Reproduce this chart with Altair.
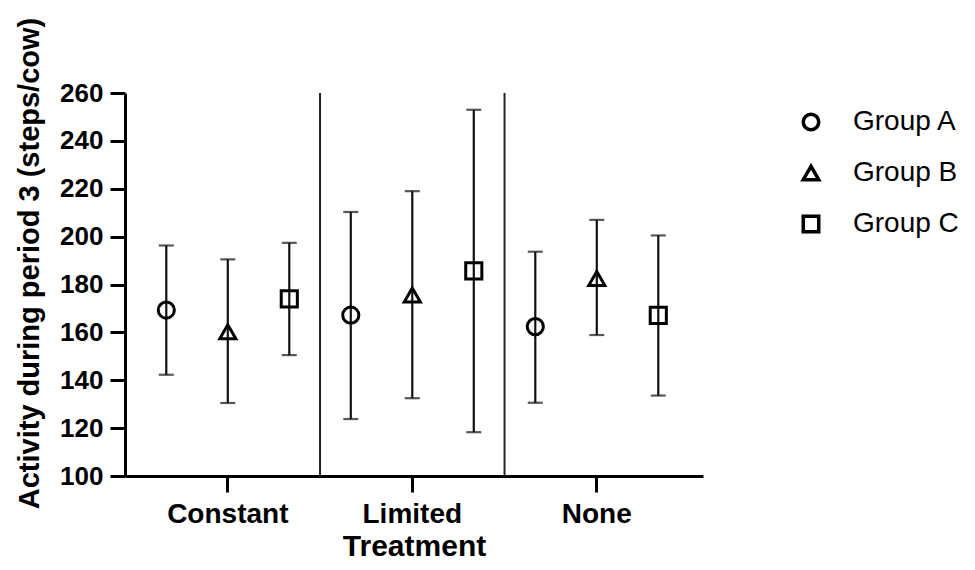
import altair as alt
import pandas as pd

treatments = ["Constant", "Limited", "None"]
groups = ["Group A", "Group B", "Group C"]
shapes = ["circle", "triangle-up", "square"]

# values per treatment (Constant, Limited, None)
mean_a = [169.3, 167.2, 162.4]
mean_b = [160.3, 175.6, 182.5]
mean_c = [174.0, 185.7, 167.1]
upper_a = [196.3, 210.3, 193.7]
upper_b = [190.5, 219.0, 207.0]
upper_c = [197.4, 253.0, 200.5]
lower_a = [142.3, 123.8, 130.6]
lower_b = [130.5, 132.5, 158.9]
lower_c = [150.5, 118.3, 133.6]

y_ticks = [100, 120, 140, 160, 180, 200, 220, 240, 260]
separators = ["Limited", "None"]

rows = []
for g, m, u, l in zip(groups, [mean_a, mean_b, mean_c], [upper_a, upper_b, upper_c], [lower_a, lower_b, lower_c]):
    for i, t in enumerate(treatments):
        rows.append({"Treatment": t, "Group": g, "Mean": m[i], "Upper": u[i], "Lower": l[i]})
df = pd.DataFrame(rows)
sep_df = pd.DataFrame({"Treatment": separators})

FONT = "Liberation Sans"
W, H = 578, 383
YTITLE = "Activity during period 3 (steps/cow)"

x_scale = alt.Scale(domain=treatments, paddingInner=0, paddingOuter=0.0664, align=0.43)
x_axis = alt.Axis(
    labelAngle=0, labelFont=FONT, labelFontSize=28, labelFontWeight="bold", labelColor="black",
    labelPadding=8, tickSize=16, tickWidth=3, tickColor="black", domainWidth=3, domainColor="black",
    titleFont=FONT, titleFontSize=30, titleFontWeight="bold", titleColor="black",
    titleY=79, titleBaseline="alphabetic", grid=False,
)
y_scale = alt.Scale(domain=[100, 260], nice=False, zero=False)
y_axis = alt.Axis(
    values=y_ticks, labelFont=FONT, labelFontSize=26, labelFontWeight="bold", labelColor="black",
    labelPadding=7, tickSize=15, tickWidth=3, tickColor="black", domainWidth=3, domainColor="black",
    titleFont=FONT, titleFontSize=29, titleFontWeight="bold", titleColor="black",
    titleX=-87, titleY=170, titleBaseline="alphabetic", grid=False,
)
xoff = alt.XOffset("Group:N", scale=alt.Scale(domain=groups, paddingInner=0, paddingOuter=0))

x_enc = alt.X("Treatment:N", scale=x_scale, axis=x_axis, title="Treatment")

base = alt.Chart(df)

seps = alt.Chart(sep_df).mark_rule(color="#222222", strokeWidth=2).encode(
    x=alt.X("Treatment:N", bandPosition=0, scale=x_scale, axis=x_axis, title="Treatment"),
    y=alt.value(0),
    y2=alt.value(H),
)

bars = base.mark_rule(color="#111111", strokeWidth=2.2).encode(
    x=x_enc,
    xOffset=xoff,
    y=alt.Y("Lower:Q", scale=y_scale, axis=y_axis, title=YTITLE),
    y2="Upper:Q",
)

cap_hi = base.mark_tick(color="#111111", size=15, thickness=2.2).encode(
    x=x_enc,
    xOffset=xoff,
    y=alt.Y("Upper:Q", scale=y_scale, axis=y_axis, title=YTITLE),
)
cap_lo = base.mark_tick(color="#111111", size=15, thickness=2.2).encode(
    x=x_enc,
    xOffset=xoff,
    y=alt.Y("Lower:Q", scale=y_scale, axis=y_axis, title=YTITLE),
)

points = base.mark_point(filled=False, color="black", strokeWidth=3, size=260, opacity=1).encode(
    x=x_enc,
    xOffset=xoff,
    y=alt.Y("Mean:Q", scale=y_scale, axis=y_axis, title=YTITLE),
    shape=alt.Shape(
        "Group:N",
        scale=alt.Scale(domain=groups, range=shapes),
        legend=alt.Legend(
            title=None, orient="none", legendX=672, legendY=15, padding=0,
            labelFont=FONT, labelFontSize=28, labelColor="black", labelOffset=28,
            symbolSize=240, symbolStrokeWidth=3.5, symbolStrokeColor="black",
            rowPadding=22,
        ),
    ),
)

chart = alt.layer(seps, bars, cap_hi, cap_lo, points).properties(
    width=W, height=H,
    padding={"left": 117, "top": 85, "right": 264, "bottom": 86},
    autosize=alt.AutoSizeParams(type="none"),
    background="white",
).configure_view(stroke=None)

chart.save("out.html", embed_options={"renderer": "svg", "actions": False})
